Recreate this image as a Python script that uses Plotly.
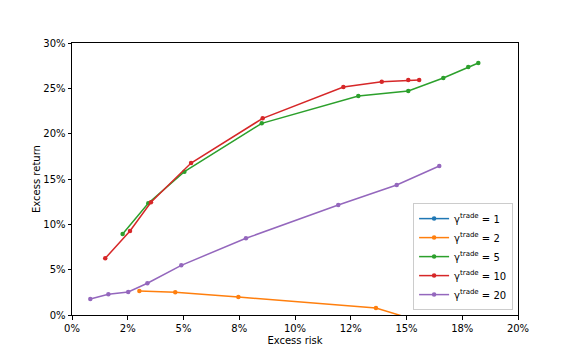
import plotly.graph_objects as go

# gamma^trade = 1 has no visible points
g1_x = []
g1_y = []

g2_x = [0.0302, 0.0463, 0.0746, 0.1363, 0.160]
g2_y = [0.0265, 0.0250, 0.0199, 0.0077, -0.010]

g5_x = [0.0227, 0.0342, 0.0504, 0.0851, 0.1284, 0.1508, 0.1665, 0.1777, 0.1822]
g5_y = [0.0893, 0.1232, 0.1581, 0.2114, 0.2415, 0.2471, 0.2614, 0.2735, 0.2779]

g10_x = [0.0149, 0.0260, 0.0354, 0.0534, 0.0855, 0.1217, 0.1389, 0.1508, 0.1557]
g10_y = [0.0625, 0.0926, 0.1243, 0.1676, 0.2169, 0.2515, 0.2573, 0.2592, 0.2592]

g20_x = [0.0082, 0.0163, 0.0252, 0.0338, 0.0490, 0.0780, 0.1194, 0.1456, 0.1647]
g20_y = [0.0176, 0.0228, 0.0254, 0.0350, 0.0548, 0.0846, 0.1213, 0.1434, 0.1643]

x_tickvals = [0, 0.025, 0.05, 0.075, 0.10, 0.125, 0.15, 0.175, 0.20]
x_ticktext = ["0%", "2%", "5%", "8%", "10%", "12%", "15%", "18%", "20%"]
y_tickvals = [0, 0.05, 0.10, 0.15, 0.20, 0.25, 0.30]
y_ticktext = ["0%", "5%", "10%", "15%", "20%", "25%", "30%"]

series = [
    ("1", g1_x, g1_y, "#1f77b4"),
    ("2", g2_x, g2_y, "#ff7f0e"),
    ("5", g5_x, g5_y, "#2ca02c"),
    ("10", g10_x, g10_y, "#d62728"),
    ("20", g20_x, g20_y, "#9467bd"),
]

fig = go.Figure()
for name, xs, ys, col in series:
    fig.add_trace(go.Scatter(
        x=xs if xs else [None], y=ys if ys else [None],
        mode="lines+markers",
        name="γ<sup>trade</sup> = " + name,
        line=dict(color=col, width=1.5),
        marker=dict(color=col, size=4.5),
        showlegend=True,
        cliponaxis=True,
    ))

axis_common = dict(
    showgrid=False, zeroline=False, showline=True, linecolor="black", linewidth=1,
    mirror=True, ticks="outside", ticklen=3.5, tickwidth=1, tickcolor="black",
    tickfont=dict(family="DejaVu Sans", size=10, color="black"),
)

fig.update_layout(
    width=576, height=360,
    margin=dict(l=72, r=58, t=43, b=45),
    paper_bgcolor="white", plot_bgcolor="white",
    font=dict(family="DejaVu Sans", size=10, color="black"),
    xaxis=dict(range=[0, 0.20], tickvals=x_tickvals, ticktext=x_ticktext,
               title=dict(text="Excess risk", font=dict(size=10), standoff=4), **axis_common),
    yaxis=dict(range=[0, 0.30], tickvals=y_tickvals, ticktext=y_ticktext,
               title=dict(text="Excess return", font=dict(size=10), standoff=0), **axis_common),
    legend=dict(x=0.989, y=0.018, xanchor="right", yanchor="bottom",
                bgcolor="rgba(255,255,255,0.8)", bordercolor="#cccccc", borderwidth=1,
                font=dict(family="DejaVu Sans", size=10), tracegroupgap=0, itemwidth=30),
)

fig.write_html("out.html")
